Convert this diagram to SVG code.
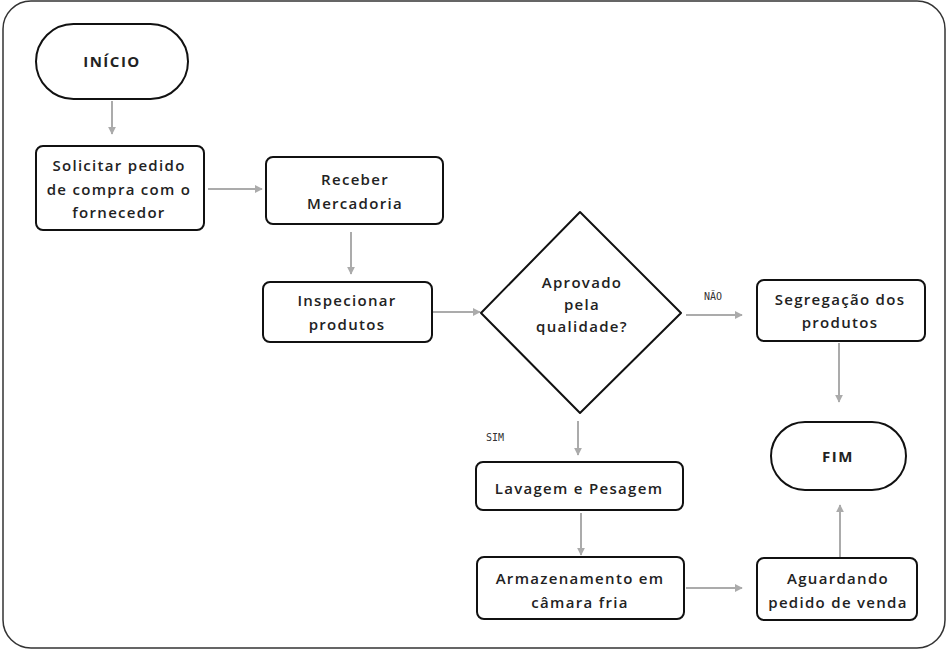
<svg xmlns="http://www.w3.org/2000/svg" width="948" height="649" viewBox="0 0 948 649">
<style>
.box{fill:#fff;stroke:#111;stroke-width:2}
.t{font-family:"Open Sans","DejaVu Sans",sans-serif;font-size:15px;font-weight:600;fill:#222;text-anchor:middle;letter-spacing:1.3px}
.b{font-weight:700;letter-spacing:1.5px}
.s{font-family:"DejaVu Sans Mono","Liberation Mono",monospace;font-size:10px;fill:#333;text-anchor:middle}
.c{stroke:#ababab;stroke-width:2;fill:none;marker-end:url(#ah)}
</style>
<defs>
<marker id="ah" viewBox="0 0 10 10" refX="9" refY="5" markerWidth="4" markerHeight="4" orient="auto" markerUnits="strokeWidth">
<path d="M0,0 L10,5 L0,10 z" fill="#ababab"/>
</marker>
</defs>
<rect x="3" y="1" width="942" height="647" rx="28" fill="#fff" stroke="#333" stroke-width="1.5"/>
<g id="connectors">
<line class="c" x1="112" y1="101" x2="112" y2="134"/>
<line class="c" x1="208" y1="189" x2="262" y2="189"/>
<line class="c" x1="351" y1="232" x2="351" y2="274"/>
<line class="c" x1="433" y1="312" x2="480" y2="312"/>
<line class="c" x1="686" y1="315" x2="742" y2="315"/>
<line class="c" x1="839" y1="343" x2="839" y2="402"/>
<line class="c" x1="578" y1="421" x2="578" y2="455"/>
<line class="c" x1="581" y1="513" x2="581" y2="555"/>
<line class="c" x1="686" y1="588" x2="742" y2="588"/>
<line class="c" x1="840" y1="557" x2="840" y2="505"/>
<text class="s" x="713" y="300">NÃO</text>
<text class="s" x="495" y="441">SIM</text>
</g>
<g id="inicio">
<rect class="box" x="36" y="24" width="152" height="75" rx="37.5"/>
<text class="t b" x="112" y="67">INÍCIO</text>
</g>
<g id="solicitar">
<rect class="box" x="36" y="146" width="168" height="84" rx="7"/>
<text class="t" x="119" y="171">Solicitar pedido</text>
<text class="t" x="119" y="195">de compra com o</text>
<text class="t" x="119" y="218">fornecedor</text>
</g>
<g id="receber">
<rect class="box" x="266" y="157" width="177" height="67" rx="7"/>
<text class="t" x="355" y="185">Receber</text>
<text class="t" x="355" y="209">Mercadoria</text>
</g>
<g id="inspecionar">
<rect class="box" x="263" y="282" width="169" height="60" rx="7"/>
<text class="t" x="347" y="306">Inspecionar</text>
<text class="t" x="347" y="330">produtos</text>
</g>
<g id="aprovado">
<path class="box" d="M580,212 L681,313 L580,413 L481,313 Z" stroke-linejoin="round"/>
<text class="t" x="582" y="288">Aprovado</text>
<text class="t" x="582" y="310">pela</text>
<text class="t" x="582" y="332">qualidade?</text>
</g>
<g id="segregacao">
<rect class="box" x="757" y="280" width="168" height="61" rx="7"/>
<text class="t" x="840" y="305">Segregação dos</text>
<text class="t" x="840" y="328">produtos</text>
</g>
<g id="fim">
<rect class="box" x="771" y="422" width="135" height="68" rx="34"/>
<text class="t b" x="838" y="462">FIM</text>
</g>
<g id="lavagem">
<rect class="box" x="476" y="462" width="207" height="48" rx="7"/>
<text class="t" x="579" y="494">Lavagem e Pesagem</text>
</g>
<g id="armazenamento">
<rect class="box" x="477" y="557" width="207" height="62" rx="7"/>
<text class="t" x="580" y="584">Armazenamento em</text>
<text class="t" x="580" y="608">câmara fria</text>
</g>
<g id="aguardando">
<rect class="box" x="757" y="558" width="160" height="62" rx="7"/>
<text class="t" x="838" y="584">Aguardando</text>
<text class="t" x="838" y="608">pedido de venda</text>
</g>
</svg>
